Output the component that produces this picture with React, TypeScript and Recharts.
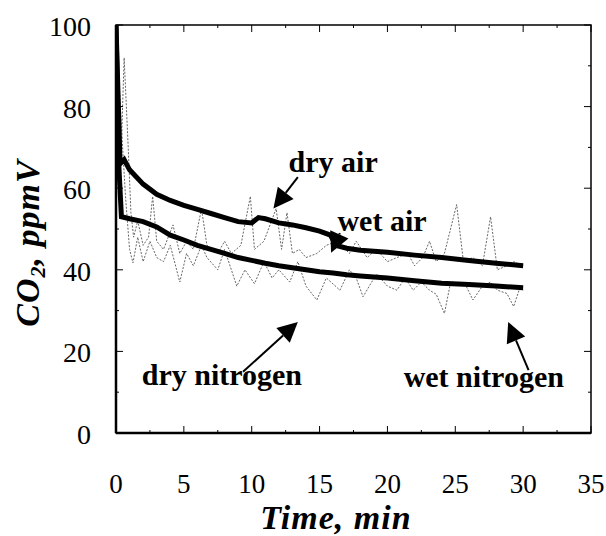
import React from "react";
import {
  LineChart,
  Line,
  XAxis,
  YAxis,
  ReferenceArea,
  ReferenceLine,
  ReferenceDot,
} from "recharts";

// ---- data ----
const xTicks = [0, 2.5, 5, 7.5, 10, 12.5, 15, 17.5, 20, 22.5, 25, 27.5, 30, 32.5, 35];
const yTicks = [0, 10, 20, 30, 40, 50, 60, 70, 80, 90, 100];

const airTime = [0, 0.3, 0.6, 1, 2, 3, 4, 5, 6, 7, 8, 9, 10, 10.5, 11, 12, 13, 14, 15, 15.8, 16.2, 17, 18, 20, 22, 24, 26, 28, 30];
const dryAir = [100, 66, 67, 64.5, 61, 58.5, 57, 55.8, 54.8, 53.8, 52.8, 51.8, 51.5, 52.8, 52.5, 51.5, 51, 50.3, 49.5, 48.5, 46, 45.3, 44.8, 44.3, 43.6, 43, 42.3, 41.6, 41];

const nitroTime = [0, 0.2, 0.4, 1, 2, 3, 4, 5, 6, 7, 8, 9, 10, 11, 12, 13, 14, 15, 16, 17, 18, 20, 22, 24, 26, 28, 30];
const dryNitrogen = [100, 66, 53, 52.5, 51.8, 50.5, 48.5, 47.3, 46, 45, 44, 43, 42.3, 41.6, 41, 40.5, 40, 39.5, 39.2, 38.8, 38.5, 38, 37.3, 36.7, 36.4, 36, 35.6];

const wetAirTime = [0, 0.3, 0.6, 0.9, 1.1, 1.3, 1.6, 2, 2.4, 2.7, 3, 3.5, 4.2, 4.7, 5.2, 5.7, 6.3, 6.7, 7.5, 8, 8.5, 9.2, 9.9, 10.2, 10.9, 11.8, 12.2, 12.6, 13, 13.5, 14, 14.8, 15.5, 16.3, 17.2, 17.7, 18.5, 19.2, 20, 20.7, 21.5, 22, 22.6, 23.1, 23.6, 24.2, 25.1, 25.6, 26.3, 27, 27.6, 28.1, 28.8, 29.3, 30];
const wetAir = [100, 60, 92, 70, 54, 48, 52, 46, 48, 58, 47, 45, 51, 44, 47, 45, 55, 46, 44, 47, 44, 46, 58, 45, 47, 55, 45, 54, 44, 45, 43, 44, 46, 47, 44, 47, 43, 45, 42, 43, 44, 41, 43, 47, 42, 44, 56, 42, 43, 41, 53, 40, 41, 42, 41];

const wetNitroTime = [0, 0.4, 0.7, 1, 1.25, 1.6, 2, 2.5, 3, 3.5, 4, 4.7, 5.2, 5.7, 6.3, 6.7, 7.5, 8, 8.5, 8.9, 9.5, 10.2, 10.9, 11.5, 12, 12.8, 13.4, 14, 14.8, 15.5, 16.5, 17.2, 17.7, 18.2, 19.2, 20, 20.7, 21.3, 21.9, 22.5, 23.1, 23.6, 24.2, 24.6, 25.3, 25.8, 26.3, 27, 27.6, 28.1, 28.8, 29.3, 29.8, 30];
const wetNitrogen = [100, 75, 58, 45, 41.7, 48, 42, 47, 43, 42, 46, 37, 44, 41, 46, 43, 40, 45, 40, 36, 40, 36.6, 42, 38, 40, 37, 42, 36, 32.6, 38, 35, 40, 38, 33.4, 39, 36, 35, 38, 35, 37, 35, 34, 29.3, 36, 37, 36, 32.6, 36, 37, 35, 34.2, 31, 36, 35];

// annotations: [tailT, tailV, tipT, tipV]
const arrowDryAir = [13.4, 62.7, 11.6, 55];
const arrowWetAir = [16.5, 49, 15.85, 44.2];
const arrowDryNitrogen = [9.36, 15, 13.4, 27.2];
const arrowWetNitrogen = [30.4, 15.4, 28.9, 27.2];
const labelNames = ["dry air", "wet air", "dry nitrogen", "wet nitrogen"];
const labelT = [16, 19.6, 7.8, 27.1];
const labelV = [64, 49.5, 11.8, 11.3];

const toPts = (ts: number[], vs: number[]) => ts.map((t, i) => ({ t, v: vs[i] }));
const airData = toPts(airTime, dryAir);
const nitroData = toPts(nitroTime, dryNitrogen);
const wetAirData = toPts(wetAirTime, wetAir);
const wetNitroData = toPts(wetNitroTime, wetNitrogen);

// ---- layout ----
const W = 606;
const H = 536;
const M_TOP = 25;
const M_RIGHT = 15;
const Y_W = 116;
const X_H = 103;
const PLOT_W = W - Y_W - M_RIGHT;
const PLOT_H = H - M_TOP - X_H;
const FONT = "Liberation Serif";

const XTick = (props: any) => {
  const { x, y, payload } = props;
  const v = payload.value as number;
  const major = v % 5 === 0;
  const len = major ? 7 : 3;
  return (
    <g>
      <line x1={x} y1={y} x2={x} y2={y - len} stroke="#000" strokeWidth={1} />
      <line x1={x} y1={y - PLOT_H} x2={x} y2={y - PLOT_H + len} stroke="#000" strokeWidth={1} />
      {major && (
        <text x={x} y={y + 60} textAnchor="middle" fontFamily={FONT} fontSize={27} fill="#000">
          {v}
        </text>
      )}
    </g>
  );
};

const YTick = (props: any) => {
  const { x, y, payload } = props;
  const v = payload.value as number;
  const major = v % 20 === 0;
  const len = major ? 7 : 3;
  return (
    <g>
      <line x1={x} y1={y} x2={x + len} y2={y} stroke="#000" strokeWidth={1} />
      <line x1={x + PLOT_W} y1={y} x2={x + PLOT_W - len} y2={y} stroke="#000" strokeWidth={1} />
      {major && (
        <text x={x - 25} y={y + 11} textAnchor="end" fontFamily={FONT} fontSize={28} fill="#000">
          {v}
        </text>
      )}
    </g>
  );
};

const arrowShape = (p: any) => {
  const { x1, y1, x2, y2 } = p;
  const dx = x2 - x1;
  const dy = y2 - y1;
  const len = Math.sqrt(dx * dx + dy * dy) || 1;
  const ux = dx / len;
  const uy = dy / len;
  const hl = 20;
  const hw = 10;
  const bx = x2 - ux * hl;
  const by = y2 - uy * hl;
  const pts = `${x2},${y2} ${bx - uy * hw},${by + ux * hw} ${bx + uy * hw},${by - ux * hw}`;
  return (
    <g>
      <line x1={x1} y1={y1} x2={bx} y2={by} stroke="#000" strokeWidth={2} />
      <polygon points={pts} fill="#000" />
    </g>
  );
};

const arrows = [arrowDryAir, arrowWetAir, arrowDryNitrogen, arrowWetNitrogen];

export default function App() {
  return (
    <div style={{ position: "absolute", left: 0, top: 0, width: W, height: H, background: "#fff", fontFamily: FONT }}>
      <LineChart width={W} height={H} margin={{ top: M_TOP, right: M_RIGHT, bottom: 0, left: 0 }}>
        <XAxis
          dataKey="t"
          type="number"
          domain={[0, 35]}
          ticks={xTicks}
          interval={0}
          height={X_H}
          tickSize={0}
          tickMargin={0}
          tickLine={false}
          axisLine={{ stroke: "#000", strokeWidth: 2.5 }}
          tick={<XTick />}
          allowDataOverflow
          label={{
            content: () => (
              <text
                x={336}
                y={529}
                textAnchor="middle"
                fontFamily={FONT}
                fontSize={34}
                fontWeight="bold"
                fontStyle="italic"
                letterSpacing={1}
                fill="#000"
              >
                Time, min
              </text>
            ),
          }}
        />
        <YAxis
          type="number"
          domain={[0, 100]}
          ticks={yTicks}
          interval={0}
          width={Y_W}
          tickSize={0}
          tickMargin={0}
          tickLine={false}
          axisLine={{ stroke: "#000", strokeWidth: 2.5 }}
          tick={<YTick />}
          allowDataOverflow
          label={{
            content: () => (
              <text
                transform="translate(39,243) rotate(-90)"
                x={0}
                y={0}
                textAnchor="middle"
                fontFamily={FONT}
                fontSize={34}
                fontWeight="bold"
                fontStyle="italic"
                letterSpacing={1}
                fill="#000"
              >
                CO
                <tspan fontSize={22} dy={6}>2</tspan>
                <tspan dy={-6}>, ppmV</tspan>
              </text>
            ),
          }}
        />
        <ReferenceArea x1={0} x2={35} y1={0} y2={100} fill="none" stroke="#000" strokeWidth={1.5} />
        <Line data={wetAirData} dataKey="v" type="linear" dot={false} stroke="#666" strokeWidth={1} strokeDasharray="2 1.5" isAnimationActive={false} />
        <Line data={wetNitroData} dataKey="v" type="linear" dot={false} stroke="#666" strokeWidth={1} strokeDasharray="2 1.5" isAnimationActive={false} />
        <Line data={airData} dataKey="v" type="linear" dot={false} stroke="#000" strokeWidth={5} isAnimationActive={false} />
        <Line data={nitroData} dataKey="v" type="linear" dot={false} stroke="#000" strokeWidth={5} isAnimationActive={false} />
        {arrows.map((a, i) => (
          <ReferenceLine
            key={"a" + i}
            segment={[{ x: a[0], y: a[1] }, { x: a[2], y: a[3] }]}
            ifOverflow="visible"
            shape={arrowShape}
          />
        ))}
        {labelNames.map((name, i) => (
          <ReferenceDot
            key={"l" + i}
            x={labelT[i]}
            y={labelV[i]}
            ifOverflow="visible"
            shape={(p: any) => (
              <text x={p.cx} y={p.cy} textAnchor="middle" fontFamily={FONT} fontSize={30} fontWeight="bold" fill="#000">
                {name}
              </text>
            )}
          />
        ))}
      </LineChart>
    </div>
  );
}
